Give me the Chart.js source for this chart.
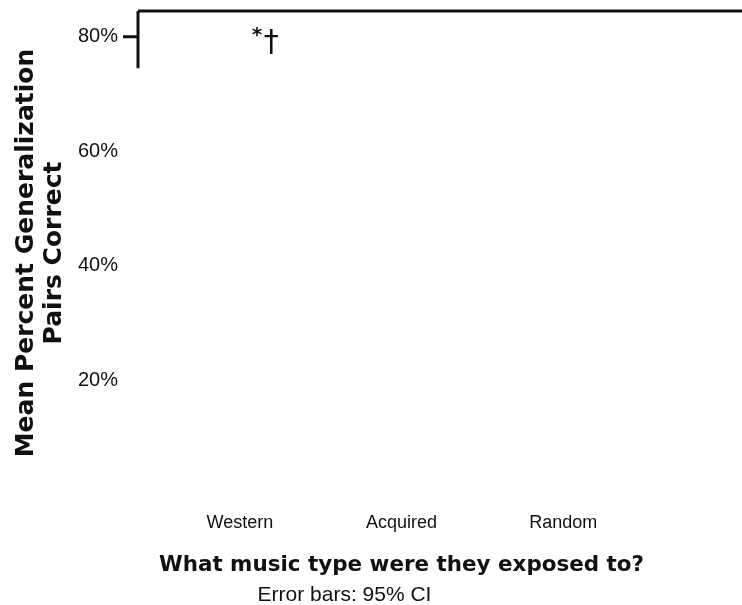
<!DOCTYPE html>
<html>
<head>
<meta charset="utf-8">
<script src="https://cdn.jsdelivr.net/npm/chart.js@4.4.1/dist/chart.umd.min.js"></script>
<style>
  html, body { margin: 0; padding: 0; background: #fff; }
  #wrap { width: 742px; height: 605px; }
</style>
</head>
<body>
<div id="wrap"><canvas id="genChart"></canvas></div>
<script>
const musicTypes = ['Western', 'Acquired', 'Random'];
const yTicks = [20, 40, 60, 80];
const yTickLabels = ['20%', '40%', '60%', '80%'];
// bars are not visible in the scan, so no values are drawn
const meanCorrect = [null, null, null];
const sigMarks = ['*†', '', ''];
const sigLevel = 80;
const yMax = 84.5;
const axisStub = 74.5;

const ink = '#111';
const axisGap = 21;

const scanAxes = {
    id: 'scanAxes',
    afterDraw(chart) {
        const c = chart.ctx;
        const area = chart.chartArea;
        const x = chart.scales.x, y = chart.scales.y;
        const ax = area.left - axisGap;
        c.save();
        c.strokeStyle = ink;
        c.lineWidth = 3;
        c.beginPath();
        c.moveTo(ax, area.top);
        c.lineTo(chart.width, area.top);
        c.moveTo(ax, area.top);
        c.lineTo(ax, y.getPixelForValue(axisStub));
        c.moveTo(ax - 15, y.getPixelForValue(sigLevel));
        c.lineTo(ax, y.getPixelForValue(sigLevel));
        c.stroke();

        c.fillStyle = ink;
        c.textBaseline = 'middle';
        sigMarks.forEach((m, i) => {
            if (!m) return;
            const px = x.getPixelForValue(i);
            c.font = 'bold 20px "DejaVu Sans"';
            c.fillText(m[0], px + 12, y.getPixelForValue(sigLevel) - 1);
            c.font = '30px "DejaVu Sans"';
            c.fillText(m[1], px + 24, y.getPixelForValue(sigLevel) + 6);
        });

        c.font = '21px "Liberation Sans", Arial, sans-serif';
        c.textAlign = 'center';
        c.fillText('Error bars: 95% CI', (area.left + area.right) / 2 - 57, chart.height - 10);
        c.restore();
    }
};

new Chart(document.getElementById('genChart'), {
    type: 'bar',
    data: {
        labels: musicTypes,
        datasets: [{
            label: 'Mean Percent Generalization Pairs Correct',
            data: meanCorrect,
            backgroundColor: '#fff'
        }]
    },
    options: {
        responsive: true,
        maintainAspectRatio: false,
        animation: false,
        layout: { padding: { top: 11, right: 98, bottom: 27, left: 0 } },
        plugins: { legend: { display: false }, tooltip: { enabled: false } },
        scales: {
            x: {
                grid: { display: false, drawTicks: false },
                border: { display: false },
                ticks: {
                    color: ink,
                    padding: 17,
                    font: { family: '"Liberation Sans", Arial, sans-serif', size: 18 }
                },
                title: {
                    display: true,
                    text: 'What music type were they exposed to?',
                    color: ink,
                    padding: { top: 1, bottom: 0 },
                    font: { family: '"DejaVu Sans"', weight: 'bold', size: 22 }
                }
            },
            y: {
                min: 0,
                max: yMax,
                afterBuildTicks(scale) {
                    scale.ticks = yTicks.map(v => ({ value: v }));
                },
                afterFit(scale) {
                    scale.width = 159;
                    scale.paddingTop = 0;
                    scale.paddingBottom = 0;
                },
                grid: { display: false, drawTicks: false },
                border: { display: false },
                ticks: {
                    color: ink,
                    padding: 41,
                    callback: (v) => yTickLabels[yTicks.indexOf(v)] || '',
                    font: { family: '"Liberation Sans", Arial, sans-serif', size: 20 }
                },
                title: {
                    display: true,
                    text: ['Mean Percent Generalization', 'Pairs Correct'],
                    color: ink,
                    padding: { top: 12, bottom: 0 },
                    font: { family: '"DejaVu Sans"', weight: 'bold', size: 25, lineHeight: 1.12 }
                }
            }
        }
    },
    plugins: [scanAxes]
});
</script>
</body>
</html>
